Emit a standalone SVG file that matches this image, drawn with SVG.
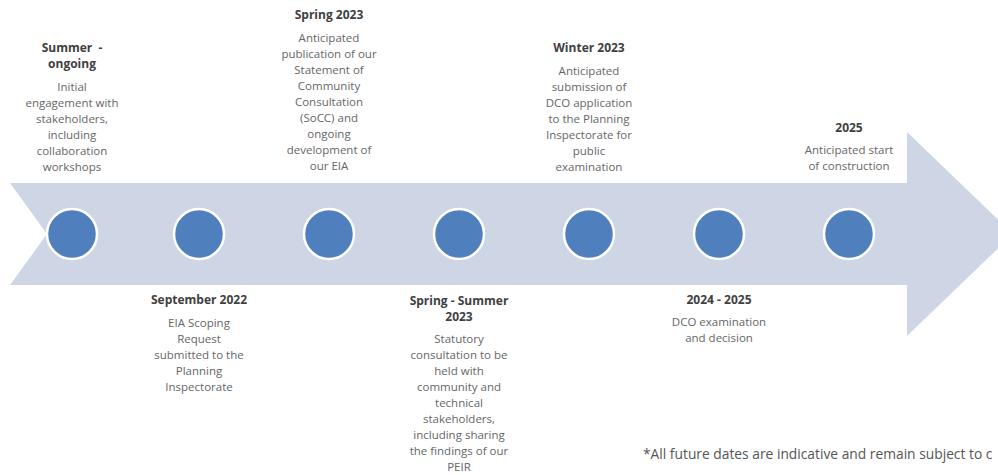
<svg xmlns="http://www.w3.org/2000/svg" width="998" height="475" viewBox="0 0 998 475">
<style>
  .t { font-family: "Open Sans", "Liberation Sans", sans-serif; font-size: 12px; font-weight: bold; fill: #404040; text-anchor: middle; }
  .b { font-family: "Open Sans", "Liberation Sans", sans-serif; font-size: 11.5px; fill: #666666; text-anchor: middle; }
  .dot { fill: #4f7fbd; stroke: #ffffff; stroke-width: 2.5; }
  .note { font-family: "Open Sans", "Liberation Sans", sans-serif; font-size: 13.8px; fill: #555555; }
</style>
<rect width="998" height="475" fill="#ffffff"/>
<g id="connectors">
  <polygon id="timeline-arrow" points="10,183 907,183 907,132 1013,234 907,336 907,285 10,285 47,234" fill="#ced6e6"/>
</g>
<g id="node-summer">
  <circle class="dot" cx="72" cy="234" r="25"/>
  <text class="t" x="72" y="52" xml:space="preserve">Summer  -</text>
  <text class="t" x="72" y="68">ongoing</text>
  <text class="b"><tspan x="72" y="91">Initial</tspan><tspan x="72" y="107">engagement with</tspan><tspan x="72" y="123">stakeholders,</tspan><tspan x="72" y="139">including</tspan><tspan x="72" y="155">collaboration</tspan><tspan x="72" y="171">workshops</tspan></text>
</g>
<g id="node-sep2022">
  <circle class="dot" cx="199" cy="234" r="25"/>
  <text class="t" x="199" y="304">September 2022</text>
  <text class="b"><tspan x="199" y="327">EIA Scoping</tspan><tspan x="199" y="343">Request</tspan><tspan x="199" y="359">submitted to the</tspan><tspan x="199" y="375">Planning</tspan><tspan x="199" y="391">Inspectorate</tspan></text>
</g>
<g id="node-spring2023">
  <circle class="dot" cx="329" cy="234" r="25"/>
  <text class="t" x="329" y="19">Spring 2023</text>
  <text class="b"><tspan x="329" y="42">Anticipated</tspan><tspan x="329" y="58">publication of our</tspan><tspan x="329" y="74">Statement of</tspan><tspan x="329" y="90">Community</tspan><tspan x="329" y="106">Consultation</tspan><tspan x="329" y="122">(SoCC) and</tspan><tspan x="329" y="138">ongoing</tspan><tspan x="329" y="154">development of</tspan><tspan x="329" y="170">our EIA</tspan></text>
</g>
<g id="node-springsummer2023">
  <circle class="dot" cx="459" cy="234" r="25"/>
  <text class="t"><tspan x="459" y="305">Spring - Summer</tspan><tspan x="459" y="321">2023</tspan></text>
  <text class="b"><tspan x="459" y="343">Statutory</tspan><tspan x="459" y="359">consultation to be</tspan><tspan x="459" y="375">held with</tspan><tspan x="459" y="391">community and</tspan><tspan x="459" y="407">technical</tspan><tspan x="459" y="423">stakeholders,</tspan><tspan x="459" y="439">including sharing</tspan><tspan x="459" y="455">the findings of our</tspan><tspan x="459" y="471">PEIR</tspan></text>
</g>
<g id="node-winter2023">
  <circle class="dot" cx="589" cy="234" r="25"/>
  <text class="t" x="589" y="52">Winter 2023</text>
  <text class="b"><tspan x="589" y="75">Anticipated</tspan><tspan x="589" y="91">submission of</tspan><tspan x="589" y="107">DCO application</tspan><tspan x="589" y="123">to the Planning</tspan><tspan x="589" y="139">Inspectorate for</tspan><tspan x="589" y="155">public</tspan><tspan x="589" y="171">examination</tspan></text>
</g>
<g id="node-2024-2025">
  <circle class="dot" cx="719" cy="234" r="25"/>
  <text class="t" x="719" y="304">2024 - 2025</text>
  <text class="b"><tspan x="719" y="326">DCO examination</tspan><tspan x="719" y="342">and decision</tspan></text>
</g>
<g id="node-2025">
  <circle class="dot" cx="849" cy="234" r="25"/>
  <text class="t" x="849" y="132">2025</text>
  <text class="b"><tspan x="849" y="154">Anticipated start</tspan><tspan x="849" y="170">of construction</tspan></text>
</g>
<g id="footnote">
  <text class="note" x="643" y="459">*All future dates are indicative and remain subject to c</text>
</g>
</svg>
